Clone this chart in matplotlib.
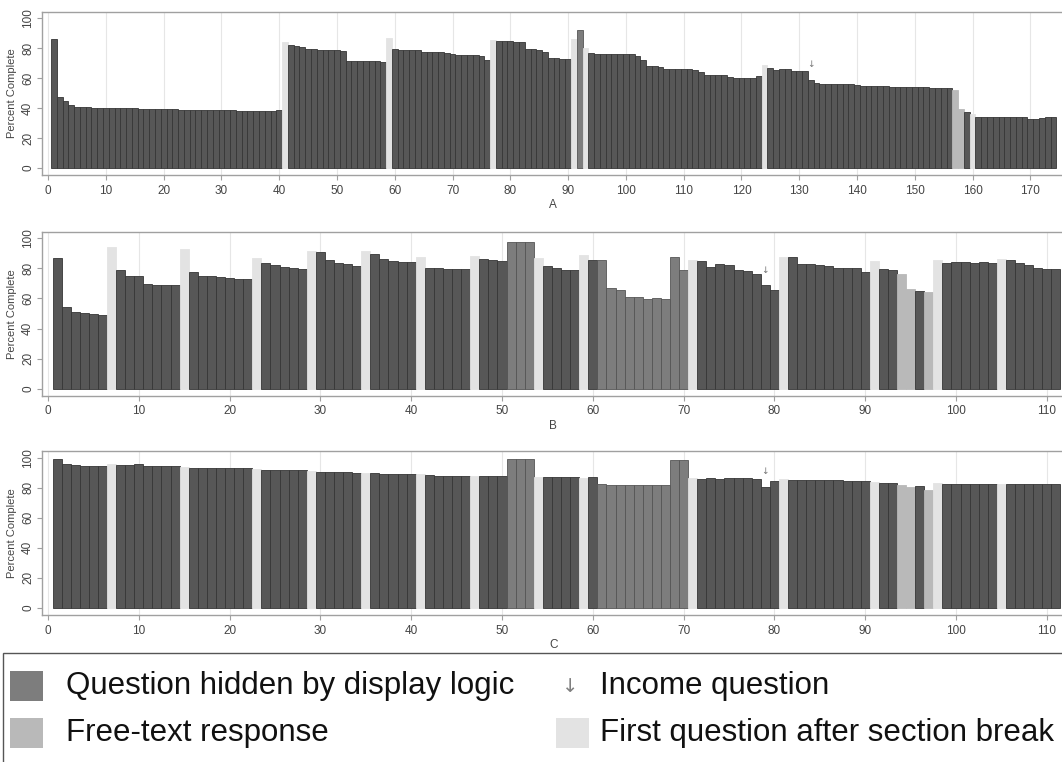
import numpy as np
import matplotlib
matplotlib.use('Agg')
import matplotlib.pyplot as plt
from matplotlib.patches import Rectangle

plt.rcParams['font.family'] = ['Liberation Sans', 'DejaVu Sans']

# 数据：每题的完成百分比
vals_a = [86.0, 47.5, 44.5, 42.3, 40.8, 40.6, 40.6, 40.2, 40.3, 40.3,
          40.2, 40.1, 40.0, 40.0, 40.0, 39.7, 39.6, 39.5, 39.4, 39.3,
          39.2, 39.2, 39.0, 38.6, 38.5, 38.5, 38.5, 38.5, 38.4, 38.4,
          38.4, 38.4, 38.1, 38.0, 38.1, 38.2, 38.0, 38.0, 38.1, 38.6,
          84.0, 82.2, 81.2, 80.8, 79.6, 79.5, 79.0, 79.0, 79.0, 78.5,
          78.3, 71.5, 71.3, 71.6, 71.3, 71.5, 71.4, 70.6, 87.0, 79.6,
          79.0, 79.0, 79.0, 78.9, 77.6, 77.4, 77.4, 77.3, 76.6, 76.0,
          75.4, 75.3, 75.2, 75.2, 74.5, 71.9, 85.5, 85.0, 84.6, 84.5,
          84.3, 84.2, 79.6, 79.6, 78.9, 77.8, 73.3, 73.3, 73.1, 72.7,
          86.3, 92.2, 80.0, 76.7, 76.2, 76.2, 76.2, 76.2, 76.0, 75.9,
          75.9, 75.0, 71.8, 68.4, 67.8, 67.6, 66.0, 66.4, 66.4, 66.2,
          66.0, 65.5, 63.8, 62.2, 62.2, 62.2, 62.2, 60.7, 59.8, 59.8,
          59.8, 60.2, 61.3, 69.0, 67.1, 65.3, 66.2, 66.2, 64.9, 64.9,
          64.9, 58.9, 56.9, 55.8, 55.8, 55.8, 56.4, 56.0, 56.0, 55.1,
          54.9, 54.7, 54.7, 54.7, 54.5, 54.2, 54.1, 54.0, 54.0, 54.0,
          53.9, 53.8, 53.4, 53.6, 53.6, 53.5, 52.2, 39.3, 37.1, 36.2,
          34.0, 34.0, 34.0, 33.9, 33.9, 33.9, 33.9, 33.8, 33.8, 32.9,
          33.0, 33.6, 33.8, 33.9]
section_a = [41, 59, 77, 91, 93, 124, 160]
hidden_a = [92]
free_a = [157, 158]
income_a = 132

vals_b = [86.7, 54.4, 50.9, 50.2, 49.8, 49.1, 94.4, 78.7, 75.1, 75.1,
          69.8, 68.9, 68.9, 68.9, 92.9, 77.6, 75.1, 74.9, 74.0, 73.3,
          72.9, 72.9, 86.7, 83.6, 82.0, 80.7, 80.4, 79.6, 91.8, 90.7,
          85.8, 83.8, 83.1, 81.8, 91.8, 89.6, 86.2, 84.9, 84.0, 84.0,
          87.6, 80.4, 80.2, 79.6, 79.3, 79.8, 88.0, 86.0, 85.8, 85.0,
          97.8, 97.8, 97.8, 86.7, 81.5, 80.4, 78.9, 78.9, 88.9, 85.3,
          85.8, 66.7, 65.6, 60.7, 60.9, 59.3, 60.2, 59.3, 87.3, 78.9,
          85.6, 85.1, 81.1, 82.7, 82.2, 78.9, 78.2, 76.2, 68.9, 65.6,
          87.3, 87.8, 82.7, 82.7, 82.2, 81.6, 80.0, 80.4, 80.4, 77.8,
          85.1, 79.6, 79.1, 76.2, 66.2, 65.1, 64.2, 85.6, 83.8, 84.4,
          84.0, 83.3, 84.0, 83.3, 86.0, 85.3, 83.3, 82.0, 80.4, 79.3,
          79.3]

vals_c = [99.3, 95.6, 94.9, 94.2, 94.2, 94.2, 95.5, 95.1, 95.1, 95.8,
          94.7, 94.7, 94.7, 94.7, 94.0, 93.3, 93.3, 93.3, 93.3, 93.3,
          93.3, 93.3, 92.5, 91.8, 91.8, 91.8, 91.8, 91.8, 90.8, 90.4,
          90.4, 90.2, 90.2, 89.6, 89.8, 89.6, 89.3, 89.3, 89.3, 89.3,
          89.0, 88.2, 88.1, 88.1, 87.9, 88.1, 87.8, 87.6, 87.6, 87.6,
          99.3, 99.3, 99.3, 87.3, 86.9, 86.9, 86.9, 86.9, 86.7, 86.9,
          82.7, 81.5, 81.5, 81.5, 81.5, 81.5, 81.5, 81.5, 98.7, 98.7,
          86.2, 86.0, 86.4, 86.0, 86.4, 86.4, 86.2, 86.0, 80.7, 84.4,
          85.6, 85.3, 85.1, 85.1, 85.1, 84.9, 84.9, 84.7, 84.7, 84.4,
          83.8, 82.9, 82.9, 81.6, 80.7, 80.9, 78.7, 82.9, 82.7, 82.7,
          82.7, 82.7, 82.7, 82.7, 82.5, 82.2, 82.2, 82.2, 82.2, 82.2,
          82.2]
# B 和 C 的题目结构相同
section_bc = [7, 15, 23, 29, 35, 41, 47, 54, 59, 71, 81, 91, 98, 105]
hidden_bc = [51, 52, 53, 61, 62, 63, 64, 65, 66, 67, 68, 69, 70]
free_bc = [94, 95, 97]
income_bc = 79

c_normal = '#575757'
c_hidden = '#7d7d7d'
c_free = '#b9b9b9'
c_section = '#e3e3e3'
frame = '#a0a0a0'


def draw_panel(ax, vals, section, hidden, free, income, label, xmax):
    x = np.arange(1, len(vals) + 1)
    vals = np.array(vals)
    cols, edges = [], []
    for i in x:
        if i in section:
            cols.append(c_section); edges.append(c_section)
        elif i in hidden:
            cols.append(c_hidden); edges.append('#555555')
        elif i in free:
            cols.append(c_free); edges.append(c_free)
        else:
            cols.append(c_normal); edges.append('#363636')
    ax.bar(x, vals, width=1.0, color=cols, edgecolor=edges, linewidth=0.6, zorder=2)
    # 收入问题的箭头
    ax.text(income, vals[income - 1] + 10, '↓', ha='center', va='center',
            fontsize=6.5, color='#777777', family='DejaVu Sans', zorder=3)
    ax.set_xlim(-0.69 if xmax < 150 else -1.1, xmax)
    ax.set_ylim(-4.7, 104.4)
    ax.set_yticks(range(0, 101, 20))
    ax.set_xticks(range(0, int(xmax), 10))
    ax.grid(axis='x', color='#e6e6e6', linewidth=0.8, zorder=0)
    for s in ax.spines.values():
        s.set_color(frame)
        s.set_linewidth(1.0)
    ax.tick_params(axis='both', colors=frame, labelcolor='#444444',
                   labelsize=8.5, length=3.5, width=0.8)
    ax.tick_params(axis='y', labelrotation=90, pad=2)
    for t in ax.get_yticklabels():
        t.set_va('center')
    ax.set_ylabel('Percent Complete', fontsize=8, color='#444444', labelpad=4)
    ax.set_xlabel(label, fontsize=8.5, color='#444444', labelpad=2)


fig = plt.figure(figsize=(10.62, 7.62), dpi=100)
W, H = 1062.0, 762.0
ax_a = fig.add_axes([41.7 / W, 1 - 175 / H, (1065 - 41.7) / W, 163.3 / H])
ax_b = fig.add_axes([41.7 / W, 1 - 395.7 / H, (1065 - 41.7) / W, 164 / H])
ax_c = fig.add_axes([41.7 / W, 1 - 615 / H, (1065 - 41.7) / W, 164 / H])

draw_panel(ax_a, vals_a, section_a, hidden_a, free_a, income_a, 'A', 176)
draw_panel(ax_b, vals_b, section_bc, hidden_bc, free_bc, income_bc, 'B', 112)
draw_panel(ax_c, vals_c, section_bc, hidden_bc, free_bc, income_bc, 'C', 112)

# 图例框
fig.patches.append(Rectangle((3 / W, -0.01), 1.02, 1 - 653 / H + 0.01,
                             transform=fig.transFigure, fill=False,
                             edgecolor='#555555', linewidth=1.0))
fs = 22.5
items = [
    (10, 671, c_hidden, 'Question hidden by display logic', 66),
    (10, 718, c_free, 'Free-text response', 66),
    (556, 718, c_section, 'First question after section break', 600),
]
for px, py, col, txt, tx in items:
    fig.patches.append(Rectangle((px / W, 1 - (py + 30) / H), 33 / W, 30 / H,
                                 transform=fig.transFigure, facecolor=col,
                                 edgecolor='none'))
    fig.text(tx / W, 1 - (py + 15) / H, txt, fontsize=fs,
             va='center', ha='left', color='#111111')
fig.text(570 / W, 1 - 686 / H, '↓', fontsize=14, va='center', ha='center',
         color='#808080', family='DejaVu Sans')
fig.text(600 / W, 1 - 686 / H, 'Income question', fontsize=fs,
         va='center', ha='left', color='#111111')

fig.savefig('out.png', dpi=100)
